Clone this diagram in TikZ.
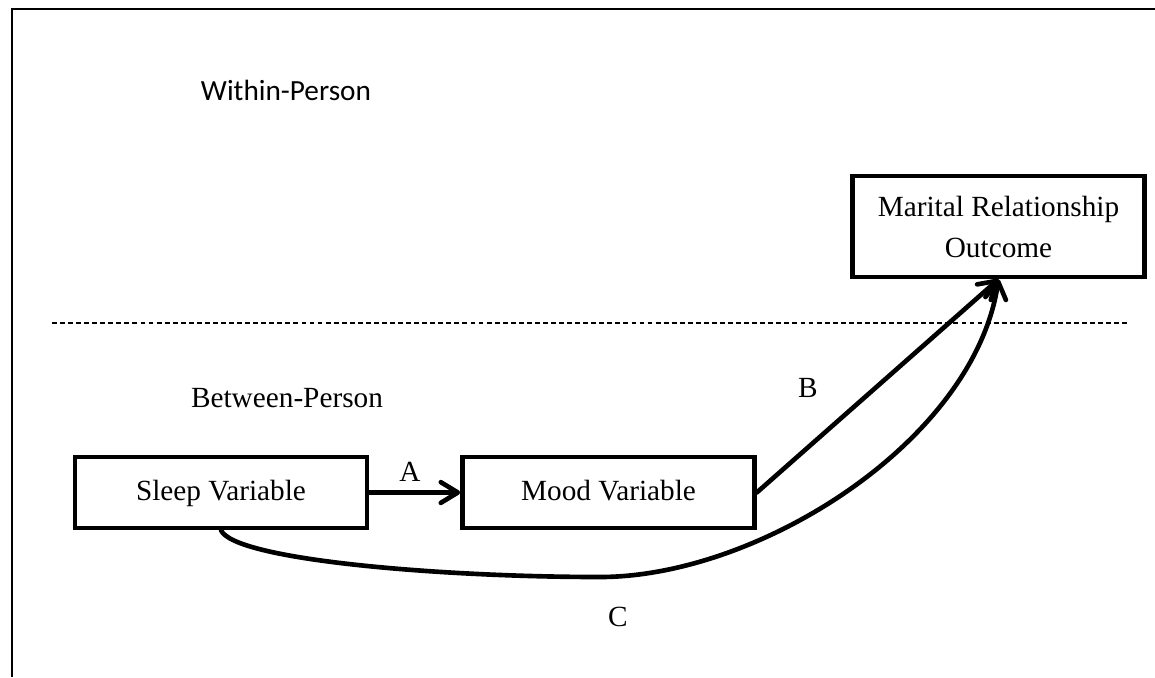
\documentclass[tikz,border=0pt]{standalone}
\usepackage{fontspec}
\setmainfont{Liberation Serif}
\newfontfamily\calibri{Carlito}
\usetikzlibrary{arrows.meta}
\begin{document}
\begin{tikzpicture}[x=0.41pt,y=-0.41pt,
  box/.style={draw,line width=1.9pt,minimum width={292*0.41pt},minimum height={71*0.41pt},inner sep=0pt,font=\fontsize{12}{16.8}\selectfont,align=center},
  onebox/.style={box,text height=0.9em,text depth=0.24em},
  lbl/.style={font=\fontsize{12}{14}\selectfont,inner sep=0pt},
  conn/.style={line width=1.9pt,line cap=round,-{Straight Barb[length=7pt,width=8.5pt,line cap=round,line join=round]}},
  frame/.style={line width=0.9pt},
  divider/.style={line width=0.6pt,dash pattern=on 2pt off 1.3pt}]
\useasboundingbox (0,0) rectangle (1155,677);
% frame
\coordinate (fbl) at (12,677);
\coordinate (ftl) at (12,9);
\coordinate (ftr) at (1155,9);
\draw[frame] (fbl) -- (ftl) -- (ftr);
% divider
\coordinate (dl) at (52,323);
\coordinate (dr) at (1129,323);
\draw[divider] (dl) -- (dr);
% labels
\node[lbl,font=\calibri\fontsize{12}{14}\selectfont] (within) at (286,90) {Within-Person};
\node[lbl] (between) at (287,398) {Between-Person};
% boxes
\node[onebox] (sleep) at (221,492.5) {Sleep Variable};
\node[onebox] (mood) at (608.5,492.5) {Mood Variable};
\node[box,minimum height={101*0.41pt}] (marital) at (998.5,226.5) {Marital Relationship\\Outcome};
% connectors
\draw[conn] (sleep.east) -- (mood.west);
\node[lbl] (la) at (410,472) {A};
\draw[conn] (mood.east) -- (marital.south);
\node[lbl] (lb) at (808,388) {B};
\draw[conn] (sleep.south) .. controls (235,560) and (440,577) .. (600,577)
  .. controls (760,577) and (975,440) .. (marital.south);
\node[lbl] (lc) at (618,617) {C};
\end{tikzpicture}
\end{document}
